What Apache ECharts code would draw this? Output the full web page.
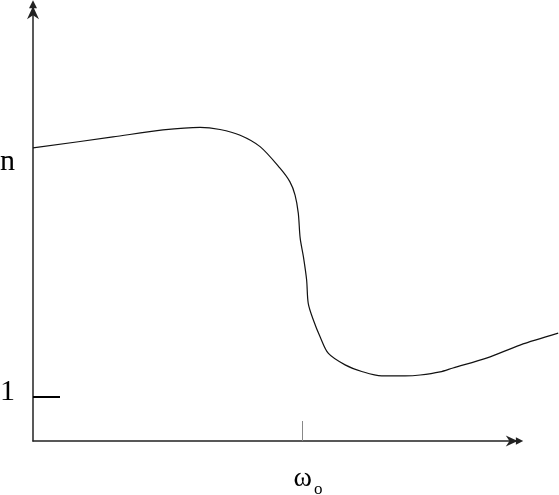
<!DOCTYPE html>
<html>
<head>
<meta charset="utf-8">
<script src="https://cdn.jsdelivr.net/npm/echarts@6/dist/echarts.min.js"></script>
<style>
html,body{margin:0;padding:0;background:#fff;}
#chart{width:559px;height:495px;}
</style>
</head>
<body>
<div id="chart"></div>
<script>
// frequency (in units of ω0)
var omega = [0, 0.297, 0.483, 0.621, 0.695, 0.770, 0.844, 0.918, 0.955, 0.974, 0.986, 0.993, 1.005, 1.017, 1.023, 1.042, 1.067, 1.098, 1.160, 1.222, 1.296, 1.383, 1.439, 1.513, 1.561, 1.688, 1.810, 1.952];
// refractive index
var index = [6.66, 6.91, 7.07, 7.13, 7.08, 6.95, 6.69, 6.20, 5.89, 5.59, 5.18, 4.61, 4.19, 3.66, 3.13, 2.75, 2.37, 1.99, 1.73, 1.58, 1.48, 1.48, 1.50, 1.57, 1.66, 1.89, 2.18, 2.45];
// axis marks
var yTickValues = [1];
var yLabelValues = [1.1, 6.33];
var yLabelTexts = ['1', 'n'];
var xTickValues = [1];

var pts = omega.map(function (x, i) { return [x, index[i]]; });
var arrowPath = 'path://M6 0 L10 8 L2 8 Z M6 6 L12 19 L6 15 L0 19 Z';

var chart = echarts.init(document.getElementById('chart'), null, {renderer: 'canvas'});
chart.setOption({
  backgroundColor: '#fff',
  animation: false,
  grid: [
    {left: 33, right: 44.5, top: 9.8, bottom: 54, containLabel: false, outerBoundsMode: 'none'},
    {left: 33, right: 0, top: 9.8, bottom: 54, containLabel: false, outerBoundsMode: 'none'}
  ],
  xAxis: [{
    type: 'value', min: 0, max: 1.79, gridIndex: 0,
    splitLine: {show: false},
    axisLine: {show: true, lineStyle: {color: '#222', width: 1.5}, symbol: ['none', arrowPath], symbolSize: [11, 18]},
    axisTick: {show: true, inside: true, length: 20, customValues: xTickValues, lineStyle: {color: '#888', width: 1}},
    axisLabel: {
      show: true, customValues: xTickValues, margin: 18,
      formatter: function () { return '{w|ω}{s|o}'; },
      rich: {
        w: {fontFamily: 'Liberation Serif', fontSize: 28, color: '#000', padding: [0, 0, 0, 12]},
        s: {fontFamily: 'Liberation Serif', fontSize: 17, color: '#000', verticalAlign: 'bottom', padding: [22, 0, 0, 2]}
      }
    }
  }, {
    type: 'value', min: 0, max: 1.955, gridIndex: 1, show: false, splitLine: {show: false}
  }],
  yAxis: [{
    type: 'value', min: 0, max: 9.8, gridIndex: 0,
    splitLine: {show: false},
    axisLine: {show: true, lineStyle: {color: '#222', width: 1.5}, symbol: ['none', arrowPath], symbolSize: [12, 19]},
    axisTick: {show: true, inside: true, length: 27, customValues: yTickValues, lineStyle: {color: '#000', width: 2}},
    axisLabel: {
      show: true, customValues: yLabelValues, margin: 18,
      fontFamily: 'Liberation Serif', fontSize: 30, color: '#000',
      formatter: function (v) {
        var i = yLabelValues.indexOf(v);
        return i >= 0 ? yLabelTexts[i] : '';
      }
    }
  }, {
    type: 'value', min: 0, max: 9.8, gridIndex: 1, show: false, splitLine: {show: false}
  }],
  series: [{
    type: 'line', data: pts, xAxisIndex: 1, yAxisIndex: 1,
    showSymbol: false, smooth: 0.3, clip: false,
    lineStyle: {color: '#111', width: 1.2}
  }]
});
</script>
</body>
</html>
